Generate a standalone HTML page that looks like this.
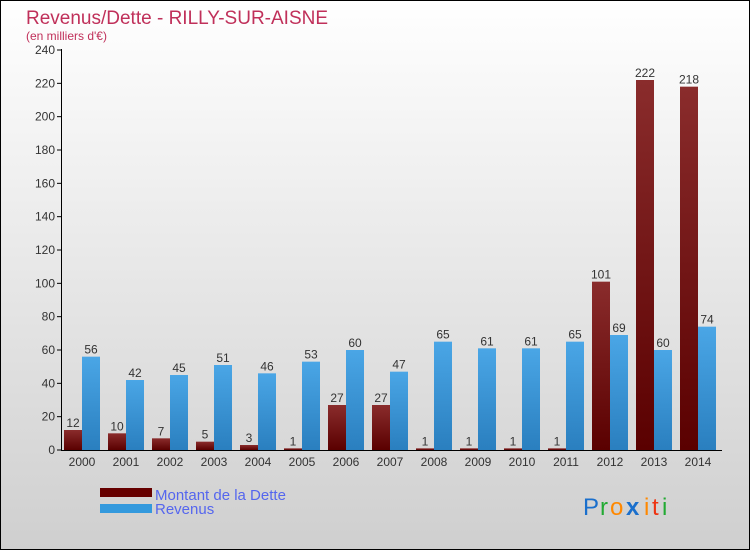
<!DOCTYPE html>
<html><head><meta charset="utf-8"><style>
body{margin:0;}
svg{display:block;font-family:"Liberation Sans",sans-serif;}
</style></head><body>
<svg width="750" height="550" viewBox="0 0 750 550">
<defs>
<linearGradient id="bg" x1="0" y1="0" x2="0" y2="1"><stop offset="0" stop-color="#ffffff"/><stop offset="1" stop-color="#cfcfcf"/></linearGradient>
<linearGradient id="gd" x1="0" y1="0" x2="0" y2="1"><stop offset="0" stop-color="#8a2c2c"/><stop offset="1" stop-color="#5a0000"/></linearGradient>
<linearGradient id="gr" x1="0" y1="0" x2="0" y2="1"><stop offset="0" stop-color="#4aa6e6"/><stop offset="1" stop-color="#2a7fbf"/></linearGradient>
</defs>
<rect x="0.5" y="0.5" width="749" height="549" fill="url(#bg)" stroke="#000"/>
<text x="26" y="24" font-size="19" fill="#c0305a">Revenus/Dette - RILLY-SUR-AISNE</text>
<text x="26" y="40" font-size="12" fill="#c0305a">(en milliers d'€)</text>
<g id="plot"></g>
<rect x="100" y="488" width="52" height="9" fill="#660000"/>
<rect x="100" y="504" width="52" height="9" fill="#3399dd"/>
<text x="155" y="500" font-size="15" fill="#5566ee">Montant de la Dette</text>
<text x="155" y="514" font-size="15" fill="#5566ee">Revenus</text>
<g font-size="24" font-family="'Liberation Sans',sans-serif">
<text x="583" y="515" fill="#1a6fcc">P</text><text x="600" y="515" fill="#22aa33">r</text><text x="610" y="515" fill="#ff8800">o</text><text x="626" y="515" fill="#1a6fcc" font-weight="bold">x</text><text x="644" y="515" fill="#ff8800">i</text><text x="652" y="515" fill="#ee3311">t</text><text x="662" y="515" fill="#22aa33">i</text>
</g>
</svg>
<script>
const years=["2000","2001","2002","2003","2004","2005","2006","2007","2008","2009","2010","2011","2012","2013","2014"];
const dette=[12,10,7,5,3,1,27,27,1,1,1,1,101,222,218];
const revenus=[56,42,45,51,46,53,60,47,65,61,61,65,69,60,74];
const yTicks=[0,20,40,60,80,100,120,140,160,180,200,220,240];
const NS="http://www.w3.org/2000/svg";
const g=document.getElementById('plot');
const y=v=>450-v*400/240;
const xc=i=>82+i*44;
function mk(t,a,txt){const e=document.createElementNS(NS,t);for(const k in a)e.setAttribute(k,a[k]);if(txt!=null)e.textContent=txt;g.appendChild(e);return e;}
yTicks.forEach(v=>{
 const t=mk('line',{x1:57,x2:62,y1:y(v),y2:y(v),stroke:'#000'});
 
 
 const l=mk('text',{x:55,y:y(v)+4,'font-size':12,fill:'#333','text-anchor':'end'},v);
 
 
});
years.forEach((yr,i)=>{
 const c=xc(i);
 const d=mk('rect',{x:c-18,y:y(dette[i]),width:18,height:450-y(dette[i]),fill:'url(#gd)'});
 
 
 const r=mk('rect',{x:c,y:y(revenus[i]),width:18,height:450-y(revenus[i]),fill:'url(#gr)'});
 
 
 const dl=mk('text',{x:c-9,y:y(dette[i])-3,'font-size':12,fill:'#333','text-anchor':'middle'},dette[i]);
 
 
 const rl=mk('text',{x:c+9,y:y(revenus[i])-3,'font-size':12,fill:'#333','text-anchor':'middle'},revenus[i]);
 
 
 const xl=mk('text',{x:c,y:466,'font-size':12,fill:'#333','text-anchor':'middle'},yr);
 
 
});
const ya=mk('line',{x1:61.5,x2:61.5,y1:49,y2:451,stroke:'#000'});


const xa=mk('line',{x1:61,x2:722,y1:450.5,y2:450.5,stroke:'#000'});


</script>
</body></html>
